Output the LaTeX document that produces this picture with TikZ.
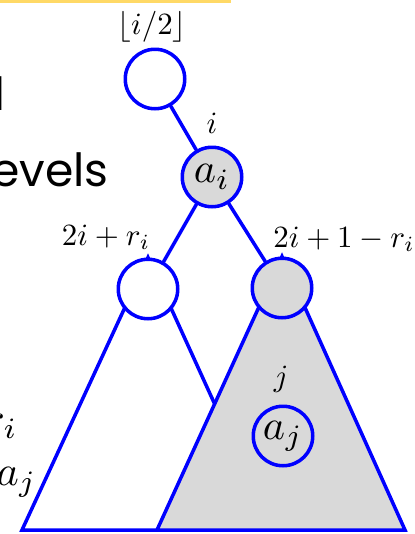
\documentclass[tikz,border=0pt]{standalone}
\usepackage{fontspec}
\setsansfont{Poppins}
\usetikzlibrary{backgrounds}
\definecolor{heapblue}{HTML}{0000FF}
\definecolor{heapgray}{HTML}{D9D9D9}
\definecolor{baryellow}{HTML}{FFD966}
\newcommand\bigmath[1]{\scalebox{2.4}{$#1$}}
\newcommand\idxmath[1]{\scalebox{1.76}{$#1$}}
\tikzset{
  every picture/.style={line cap=round, line join=round},
  % heap entries
  hnode/.style={circle, draw=heapblue, line width=2pt, minimum size=1.19cm, inner sep=0pt},
  edge/.style={draw=heapblue, line width=2pt},
  subtree/.style={draw=heapblue, line width=2pt, line join=miter},
  idx/.style={inner sep=0pt},
  % slide text, cut off at the left
  slidetext/.style={font=\sffamily\fontsize{26}{30}\selectfont, inner sep=0pt},
}
\begin{document}
\begin{tikzpicture}[x=0.02cm, y=-0.02cm]
  \useasboundingbox (0,0) rectangle (415,534);
  \clip (0,0) rectangle (415,534);
  % ---- slide bar and text at the left edge
  \fill[baryellow] (0,0) rectangle (231,3);
  \node[slidetext, anchor=base east] (txtand) at (6,110) {d};
  \node[slidetext, anchor=base east] (txtlevels) at (109,186) {evels};
  \node[idx, anchor=base east] (txtri) at (18,432) {\bigmath{r_i}};
  \node[idx, anchor=base east] (txtaj) at (37,485) {\bigmath{a_j}};
  % ---- heap nodes
  \node[hnode] (parent) at (155,79) {};
  \node[hnode, fill=heapgray] (ai) at (212,177) {\bigmath{a_i}};
  \node[hnode, fill=white] (lchild) at (148,289) {};
  \node[hnode, fill=heapgray] (rchild) at (282,288) {};
  \node[hnode] (aj) at (283,436) {\bigmath{a_j}};
  \draw[edge] (parent) -- (ai);
  \draw[edge] (ai) -- (lchild);
  \draw[edge] (ai) -- (rchild);
  % ---- index labels
  \node[idx, anchor=base] (lblparent) at (152,34) {\idxmath{\lfloor i/2\rfloor}};
  \node[idx, anchor=base] (lbli) at (212,133) {\idxmath{i}};
  \node[idx, anchor=base] (lblleft) at (106,245) {\idxmath{2i+r_i}};
  \node[idx, anchor=base] (lblright) at (344,247) {\idxmath{2i+1-r_i}};
  \node[idx, anchor=base] (lblj) at (281,386) {\idxmath{j}};
  % ---- subtrees below the children
  \coordinate (lbase1) at (22,530);
  \coordinate (lbase2) at (272,530);
  \coordinate (rbase1) at (157,530);
  \coordinate (rbase2) at (405,530);
  \begin{scope}[on background layer]
    \filldraw[subtree, fill=white] (lchild.north) -- (lbase1) -- (lbase2) -- cycle;
    \filldraw[subtree, fill=heapgray] (rchild.north) -- (rbase1) -- (rbase2) -- cycle;
  \end{scope}
\end{tikzpicture}
\end{document}
